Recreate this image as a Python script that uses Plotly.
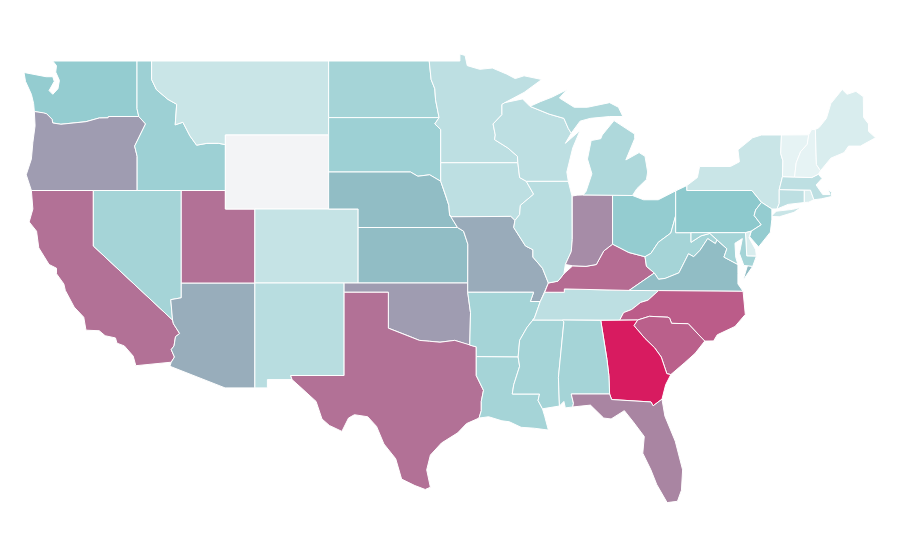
import plotly.graph_objects as go
from plotly.colors import sample_colorscale

# state outlines, (lon, lat) by hand. plotly's own us topojson comes off the cdn, no network here
WA = [[(-124.7,48.38),(-124.6,47.9),(-124.2,47.2),(-124.05,46.7),(-124.0,46.27),(-123.4,46.2),(-123.17,46.15),(-122.8,45.85),(-122.75,45.65),(-122.2,45.58),(-121.2,45.65),(-120.5,45.72),(-119.6,45.92),(-119.0,45.93),(-118.98,46.0),(-116.92,46.0),(-117.04,46.42),(-117.04,49),(-122.75,49),(-122.5,48.75),(-122.55,48.4),(-122.3,47.95),(-122.4,47.5),(-122.75,47.2),(-123.0,47.4),(-122.65,47.9),(-122.75,48.15),(-123.2,48.15)]]
OR = [[(-124.0,46.27),(-123.95,45.5),(-124.1,44.6),(-124.2,43.7),(-124.55,42.85),(-124.2,42),(-117.03,42),(-117.03,43.85),(-117.2,44.4),(-116.85,44.95),(-116.46,45.6),(-116.92,46.0),(-118.98,46.0),(-119.0,45.93),(-119.6,45.92),(-120.5,45.72),(-121.2,45.65),(-122.2,45.58),(-122.75,45.65),(-122.8,45.85),(-123.17,46.15),(-123.4,46.2)]]
CA = [[(-124.2,42),(-120,42),(-120,39),(-114.63,35.0),(-114.57,34.8),(-114.15,34.27),(-114.43,34.1),(-114.53,33.6),(-114.72,33.4),(-114.5,33.0),(-114.72,32.72),(-117.12,32.53),(-117.3,33.05),(-117.9,33.6),(-118.4,33.75),(-118.5,34.03),(-119.2,34.15),(-119.6,34.42),(-120.5,34.45),(-120.65,35.15),(-121.3,35.7),(-121.9,36.6),(-122.0,36.95),(-122.5,37.5),(-122.5,37.8),(-123.0,38.0),(-123.7,38.9),(-123.85,39.8),(-124.35,40.3),(-124.1,41.0)]]
NV = [[(-120,42),(-114.04,42),(-114.04,36.2),(-114.75,36.1),(-114.63,35.0),(-120,39)]]
AZ = [[(-114.04,37),(-109.05,37),(-109.05,31.33),(-111.07,31.33),(-114.81,32.5),(-114.72,32.72),(-114.5,33.0),(-114.72,33.4),(-114.53,33.6),(-114.43,34.1),(-114.15,34.27),(-114.57,34.8),(-114.63,35.0),(-114.75,36.1),(-114.04,36.2)]]
UT = [[(-114.04,42),(-111.05,42),(-111.05,41),(-109.05,41),(-109.05,37),(-114.04,37)]]
ID = [[(-117.04,49),(-116.05,49),(-116.05,48.0),(-115.72,47.45),(-114.95,46.93),(-114.35,46.66),(-114.45,45.55),(-113.93,45.69),(-113.45,44.95),(-113.0,44.45),(-112.3,44.55),(-111.5,44.55),(-111.05,44.48),(-111.05,42),(-117.03,42),(-117.03,43.85),(-117.2,44.4),(-116.85,44.95),(-116.46,45.6),(-116.92,46.0),(-117.04,46.42)]]
MT = [[(-116.05,49),(-104.05,49),(-104.05,45),(-111.05,45),(-111.05,44.48),(-111.5,44.55),(-112.3,44.55),(-113.0,44.45),(-113.45,44.95),(-113.93,45.69),(-114.45,45.55),(-114.35,46.66),(-114.95,46.93),(-115.72,47.45),(-116.05,48.0)]]
WY = [[(-111.05,45),(-104.05,45),(-104.05,41),(-111.05,41)]]
CO = [[(-109.05,41),(-102.05,41),(-102.05,37),(-109.05,37)]]
NM = [[(-109.05,37),(-103,37),(-103,32),(-106.62,32),(-106.53,31.78),(-108.2,31.78),(-108.2,31.33),(-109.05,31.33)]]
ND = [[(-104.05,49),(-97.23,49),(-97.1,48.0),(-96.85,47.5),(-96.8,46.9),(-96.56,45.94),(-104.05,45.94)]]
SD = [[(-104.05,45.94),(-96.56,45.94),(-96.85,45.6),(-96.45,45.3),(-96.45,43.5),(-96.45,42.5),(-97.2,42.85),(-98.0,42.77),(-98.5,43.0),(-104.05,43)]]
NE = [[(-104.05,43),(-98.5,43),(-98.0,42.77),(-97.2,42.85),(-96.45,42.5),(-96.1,41.7),(-95.9,41.2),(-95.85,40.7),(-95.31,40),(-102.05,40),(-102.05,41),(-104.05,41)]]
KS = [[(-102.05,40),(-95.31,40),(-94.9,39.8),(-94.61,39.1),(-94.62,37),(-102.05,37)]]
OK = [[(-103,37),(-94.62,37),(-94.62,36.5),(-94.43,35.4),(-94.48,33.64),(-95.5,33.9),(-96.5,33.8),(-97.2,33.85),(-97.9,33.9),(-98.5,34.1),(-99.2,34.3),(-100,34.56),(-100,36.5),(-103,36.5)]]
TX = [[(-103,36.5),(-100,36.5),(-100,34.56),(-99.2,34.3),(-98.5,34.1),(-97.9,33.9),(-97.2,33.85),(-96.5,33.8),(-95.5,33.9),(-94.48,33.64),(-94.04,33.55),(-94.04,32.0),(-93.55,31.2),(-93.7,30.6),(-93.7,30.1),(-93.85,29.7),(-94.7,29.4),(-95.3,28.9),(-96.4,28.35),(-97.15,27.7),(-97.4,26.9),(-97.15,25.96),(-97.5,25.84),(-98.2,26.05),(-99.1,26.4),(-99.5,27.5),(-100.3,28.3),(-100.8,29.25),(-101.4,29.77),(-102.3,29.88),(-102.7,29.7),(-103.15,28.98),(-104.0,29.3),(-104.5,29.65),(-104.9,30.6),(-106.0,31.4),(-106.53,31.78),(-106.62,32),(-103,32)]]
MN = [[(-97.23,49),(-95.15,49),(-95.15,49.38),(-94.8,49.3),(-94.65,48.75),(-93.8,48.55),(-92.95,48.62),(-92.0,48.3),(-91.4,48.05),(-90.8,48.2),(-89.6,48.0),(-90.8,47.3),(-92.1,46.75),(-92.3,46.65),(-92.3,46.1),(-92.9,45.6),(-92.75,45.0),(-92.8,44.75),(-91.9,44.3),(-91.25,43.85),(-91.22,43.5),(-96.45,43.5),(-96.45,45.3),(-96.85,45.6),(-96.56,45.94),(-96.8,46.9),(-96.85,47.5),(-97.1,48.0)]]
IA = [[(-96.45,43.5),(-91.22,43.5),(-91.1,42.7),(-90.65,42.5),(-90.15,41.8),(-91.05,41.2),(-91.1,40.7),(-91.42,40.38),(-91.7,40.6),(-95.75,40.58),(-95.85,40.7),(-95.9,41.2),(-96.1,41.7),(-96.45,42.5)]]
MO = [[(-95.75,40.58),(-91.7,40.6),(-91.42,40.38),(-91.5,40.0),(-90.7,39.0),(-90.2,38.8),(-90.2,38.4),(-89.55,37.8),(-89.15,37.0),(-89.4,36.5),(-89.7,36.0),(-90.37,36.0),(-90.15,36.5),(-94.62,36.5),(-94.62,37),(-94.61,39.1),(-94.9,39.8),(-95.31,40),(-95.85,40.7)]]
AR = [[(-94.62,36.5),(-90.15,36.5),(-90.37,36.0),(-89.7,36.0),(-90.1,35.1),(-90.6,34.6),(-91.1,33.9),(-91.2,33.0),(-94.04,33.02),(-94.04,33.55),(-94.48,33.64),(-94.43,35.4)]]
LA = [[(-94.04,33.02),(-91.2,33.0),(-91.1,32.5),(-91.5,31.5),(-91.6,31.0),(-89.75,31.0),(-89.85,30.65),(-89.55,30.2),(-89.4,29.8),(-89.15,29.05),(-90.1,29.15),(-91.0,29.2),(-91.8,29.5),(-92.3,29.55),(-93.2,29.77),(-93.85,29.7),(-93.7,30.1),(-93.7,30.6),(-93.55,31.2),(-94.04,32.0)]]
MS = [[(-90.2,35.0),(-88.2,35.0),(-88.1,34.9),(-88.47,31.9),(-88.4,30.35),(-89.55,30.2),(-89.85,30.65),(-89.75,31.0),(-91.6,31.0),(-91.5,31.5),(-91.1,32.5),(-91.2,33.0),(-91.1,33.9),(-90.6,34.6),(-90.1,35.1)]]
TN = [[(-89.7,36.0),(-90.1,35.1),(-90.2,35.0),(-88.2,35.0),(-85.6,34.98),(-84.32,34.99),(-84.05,35.4),(-83.5,35.57),(-82.9,35.95),(-82.4,36.07),(-81.68,36.59),(-83.68,36.6),(-88.07,36.68),(-88.07,36.5),(-89.4,36.5)]]
KY = [[(-89.4,36.5),(-88.07,36.5),(-88.07,36.68),(-83.68,36.6),(-81.97,37.54),(-82.5,37.9),(-82.6,38.42),(-83.7,38.65),(-84.3,38.9),(-84.8,39.1),(-85.4,38.73),(-85.9,38.0),(-86.6,37.9),(-87.5,37.93),(-88.1,37.5),(-88.5,37.1),(-89.15,37.0)]]
IL = [[(-90.65,42.5),(-87.8,42.5),(-87.55,41.7),(-87.53,39.35),(-87.6,38.7),(-88.0,38.0),(-88.1,37.5),(-88.5,37.1),(-89.15,37.0),(-89.55,37.8),(-90.2,38.4),(-90.2,38.8),(-90.7,39.0),(-91.5,40.0),(-91.42,40.38),(-91.1,40.7),(-91.05,41.2),(-90.15,41.8)]]
IN = [[(-87.53,41.7),(-87.2,41.75),(-86.8,41.76),(-84.8,41.76),(-84.8,39.1),(-85.4,38.73),(-85.9,38.0),(-86.6,37.9),(-87.5,37.93),(-88.0,38.0),(-87.6,38.7),(-87.53,39.35)]]
OH = [[(-84.8,41.76),(-83.45,41.73),(-82.7,41.5),(-81.7,41.5),(-80.52,41.98),(-80.52,40.64),(-80.85,39.7),(-81.7,39.2),(-82.2,38.6),(-82.6,38.42),(-83.7,38.65),(-84.3,38.9),(-84.8,39.1)]]
WV = [[(-82.6,38.42),(-82.2,38.6),(-81.7,39.2),(-80.85,39.7),(-80.52,40.64),(-80.52,39.72),(-79.48,39.72),(-79.48,39.2),(-78.8,39.55),(-78.2,39.68),(-77.72,39.32),(-77.83,39.13),(-78.35,39.4),(-78.87,38.77),(-79.3,38.42),(-79.65,38.58),(-80.3,37.55),(-81.23,37.25),(-81.68,37.2),(-81.97,37.54),(-82.5,37.9)]]
VA = [[(-83.68,36.6),(-81.97,37.54),(-81.68,37.2),(-81.23,37.25),(-80.3,37.55),(-79.65,38.58),(-79.3,38.42),(-78.87,38.77),(-78.35,39.4),(-77.83,39.13),(-77.72,39.32),(-77.05,38.85),(-77.25,38.4),(-76.3,38.0),(-76.3,37.5),(-76.3,36.95),(-75.95,36.55),(-81.68,36.59)],
      [(-75.95,37.15),(-75.3,37.9),(-75.65,37.95)]]
NC = [[(-84.32,34.99),(-84.05,35.4),(-83.5,35.57),(-82.9,35.95),(-82.4,36.07),(-81.68,36.59),(-75.95,36.55),(-75.8,35.3),(-76.5,34.65),(-77.7,34.2),(-77.95,33.87),(-78.55,33.86),(-79.67,34.8),(-80.8,34.82),(-80.93,35.1),(-81.05,35.15),(-82.3,35.2),(-83.1,35.0)]]
SC = [[(-83.1,35.0),(-82.3,35.2),(-81.05,35.15),(-80.93,35.1),(-80.8,34.82),(-79.67,34.8),(-78.55,33.86),(-79.2,33.2),(-79.9,32.7),(-80.85,32.05),(-81.12,32.1),(-81.5,33.0),(-81.95,33.5),(-82.6,34.0),(-83.35,34.7)]]
GA = [[(-85.6,34.98),(-83.1,35.0),(-83.35,34.7),(-82.6,34.0),(-81.95,33.5),(-81.5,33.0),(-81.12,32.1),(-80.85,32.05),(-81.2,31.5),(-81.45,30.72),(-82.05,30.36),(-82.2,30.57),(-84.86,30.7),(-85.0,31.0),(-85.05,32.0),(-85.18,32.87)]]
AL = [[(-88.2,35.0),(-85.6,34.98),(-85.18,32.87),(-85.05,32.0),(-85.0,31.0),(-87.6,31.0),(-87.45,30.5),(-87.5,30.3),(-88.0,30.25),(-88.1,30.6),(-88.4,30.35),(-88.47,31.9),(-88.1,34.9)]]
FL = [[(-87.6,31.0),(-85.0,31.0),(-84.86,30.7),(-82.2,30.57),(-82.05,30.36),(-81.45,30.72),(-81.25,29.8),(-80.55,28.45),(-80.05,26.9),(-80.13,25.8),(-80.4,25.2),(-81.1,25.13),(-81.8,26.1),(-82.2,26.9),(-82.75,27.8),(-82.65,28.7),(-83.4,29.5),(-84.0,30.1),(-84.9,29.65),(-85.4,29.7),(-86.3,30.4),(-87.5,30.3),(-87.45,30.5)]]
WI = [[(-92.1,46.75),(-90.9,46.95),(-90.4,46.55),(-89.1,46.13),(-88.1,45.9),(-87.8,45.35),(-87.6,45.1),(-88.0,44.55),(-87.0,45.25),(-87.5,44.3),(-87.9,43.0),(-87.8,42.5),(-90.65,42.5),(-91.1,42.7),(-91.22,43.5),(-91.25,43.85),(-91.9,44.3),(-92.8,44.75),(-92.75,45.0),(-92.9,45.6),(-92.3,46.1),(-92.3,46.65)]]
MI = [[(-86.8,41.76),(-84.8,41.76),(-83.45,41.73),(-83.15,42.1),(-82.5,42.6),(-82.42,43.0),(-82.6,43.85),(-83.0,44.05),(-83.9,43.65),(-83.3,44.8),(-83.3,45.05),(-84.7,45.78),(-85.5,45.0),(-85.6,44.8),(-86.25,44.7),(-86.5,43.7),(-86.2,42.9),(-86.6,41.95)],
      [(-90.4,46.55),(-89.1,46.13),(-88.1,45.9),(-87.8,45.35),(-87.6,45.1),(-87.0,45.75),(-86.3,45.9),(-85.0,46.0),(-84.1,46.0),(-84.4,46.5),(-85.0,46.75),(-86.5,46.5),(-87.4,46.5),(-88.4,47.0),(-87.9,47.45),(-88.9,47.05),(-89.7,46.8)]]
PA = [[(-80.52,41.98),(-79.76,42.27),(-79.76,42),(-75.35,42),(-74.7,41.36),(-75.1,40.95),(-75.2,40.65),(-74.72,40.15),(-75.4,39.8),(-75.79,39.72),(-80.52,39.72)]]
NY = [[(-79.76,42.27),(-79.05,42.7),(-78.9,43.3),(-76.8,43.3),(-76.2,43.55),(-76.3,44.2),(-75.3,44.85),(-74.7,45.0),(-73.35,45.0),(-73.4,44.0),(-73.25,43.6),(-73.28,42.75),(-73.5,42.05),(-73.5,41.3),(-73.65,41.0),(-74.0,41.0),(-74.7,41.36),(-75.35,42),(-79.76,42)],
      [(-74.05,40.6),(-73.7,40.88),(-72.6,40.98),(-72.0,41.1),(-72.5,40.82),(-73.5,40.58)]]
NJ = [[(-74.7,41.36),(-74.0,41.0),(-74.0,40.45),(-74.1,39.75),(-74.9,38.95),(-75.5,39.5),(-75.4,39.8),(-74.72,40.15),(-75.2,40.65),(-75.1,40.95)]]
DE = [[(-75.79,39.72),(-75.4,39.8),(-75.55,39.45),(-75.1,38.8),(-75.05,38.45),(-75.7,38.46)]]
MD = [[(-79.48,39.72),(-75.79,39.72),(-75.7,38.46),(-75.05,38.45),(-75.3,37.9),(-75.65,37.95),(-75.9,37.95),(-76.2,38.6),(-76.0,39.4),(-76.5,39.15),(-76.45,38.4),(-76.3,38.0),(-77.25,38.4),(-77.05,38.85),(-77.72,39.32),(-78.2,39.68),(-78.8,39.55),(-79.48,39.2)]]
CT = [[(-73.5,42.05),(-71.8,42.02),(-71.8,41.35),(-72.9,41.25),(-73.65,41.0),(-73.5,41.3)]]
RI = [[(-71.8,42.02),(-71.38,42.02),(-71.15,41.5),(-71.5,41.37),(-71.8,41.35)]]
MA = [[(-73.5,42.05),(-73.28,42.75),(-72.46,42.73),(-71.3,42.7),(-70.85,42.88),(-70.6,42.65),(-71.0,42.3),(-70.55,41.78),(-70.05,41.78),(-70.2,42.07),(-69.95,41.9),(-69.97,41.67),(-70.65,41.55),(-71.15,41.5),(-71.38,42.02),(-71.8,42.02)]]
VT = [[(-73.35,45.0),(-71.5,45.01),(-71.6,44.5),(-72.05,44.1),(-72.35,43.5),(-72.46,42.73),(-73.28,42.75),(-73.25,43.6),(-73.4,44.0)]]
NH = [[(-71.5,45.01),(-71.3,45.3),(-71.05,45.3),(-70.98,43.4),(-70.7,43.07),(-70.85,42.88),(-71.3,42.7),(-72.46,42.73),(-72.35,43.5),(-72.05,44.1),(-71.6,44.5)]]
ME = [[(-71.05,45.3),(-70.8,45.4),(-70.3,45.9),(-70.0,46.7),(-69.23,47.46),(-68.9,47.2),(-68.3,47.36),(-67.8,47.07),(-67.78,45.95),(-67.45,45.6),(-67.45,45.2),(-66.97,44.85),(-68.0,44.4),(-68.8,44.4),(-69.1,44.05),(-70.0,43.75),(-70.7,43.07),(-70.98,43.4)]]

states = ["WA","OR","CA","NV","AZ","UT","ID","MT","WY","CO","NM","ND","SD","NE","KS","OK","TX","MN","IA","MO","AR","LA","MS","TN","KY","IL","IN","OH","WV","VA","NC","SC","GA","AL","FL","WI","MI","PA","NY","NJ","DE","MD","CT","RI","MA","VT","NH","ME"]
outlines = [WA,OR,CA,NV,AZ,UT,ID,MT,WY,CO,NM,ND,SD,NE,KS,OK,TX,MN,IA,MO,AR,LA,MS,TN,KY,IL,IN,OH,WV,VA,NC,SC,GA,AL,FL,WI,MI,PA,NY,NJ,DE,MD,CT,RI,MA,VT,NH,ME]
values = [32,51.5,67.5,26,45,67.5,29,13.3,0,14.7,19.4,26,29,39,39,51.5,67.5,17.6,17.6,46,26,26,26,17.6,70,19.4,57.5,32,26,39,75.5,74,100,26,60,17.6,23,34.5,13.3,32,7.6,26,17.6,7.6,17.6,3,3,7.6]

colorscale = [[0, "#f3f4f6"], [0.03, "#e6f3f4"], [0.35, "#8cc8cc"], [1, "#d81b60"]]

fig = go.Figure()
for name, rings, value in zip(states, outlines, values):
    xs, ys = [], []
    for ring in rings:
        xs += [p[0] for p in ring] + [ring[0][0], None]
        ys += [p[1] for p in ring] + [ring[0][1], None]
    color = sample_colorscale(colorscale, value / 100)[0]
    fig.add_trace(go.Scatter(
        x=xs,
        y=ys,
        mode="lines",
        fill="toself",
        fillcolor=color,
        line=dict(color="white", width=1),
        name=name,
        hoverinfo="name",
        showlegend=False,
    ))

# page body adds 8px, ranges shifted to make up for it
fig.update_xaxes(visible=False, range=[-125.786, -64.77], fixedrange=True)
fig.update_yaxes(visible=False, range=[21.595, 51.865], fixedrange=True)
fig.update_layout(
    width=900,
    height=560,
    margin=dict(l=0, r=0, t=0, b=0),
    paper_bgcolor="white",
    plot_bgcolor="white",
)
fig.write_html("out.html")
